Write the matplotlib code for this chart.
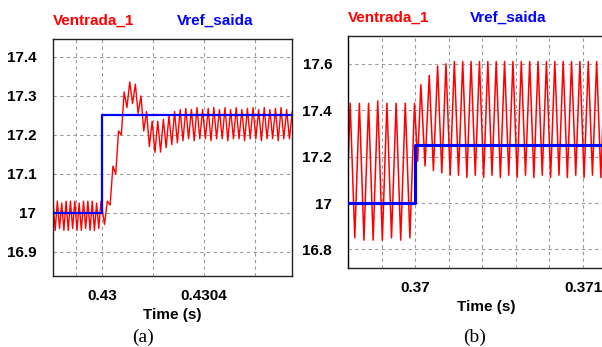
import numpy as np
import matplotlib
matplotlib.use("Agg")
import matplotlib.pyplot as plt

W, H = 602, 347

# ---------------- Panel (a) data ----------------
# before the step: alternating extremes (high/low) of Ventrada_1
a_pre_t0, a_pre_t1 = 0.429808, 0.429996
a_pre_vals = [17.03, 16.955, 17.03, 16.96, 17.025, 16.955, 17.03, 16.955,
              17.03, 16.96, 17.03, 16.955, 17.025, 16.955, 17.03, 16.96,
              17.03, 16.955, 17.03, 16.955, 17.025, 16.96, 17.03]
# after the step: alternating extremes (low/high)
a_post_t0, a_post_t1 = 0.43001, 0.430746
a_post_vals = [16.97, 17.03, 17.02, 17.12, 17.10, 17.21, 17.20, 17.31,
               17.27, 17.336, 17.28, 17.33, 17.255, 17.30, 17.21, 17.26,
               17.17, 17.235, 17.155, 17.235, 17.156, 17.24, 17.167, 17.25,
               17.175, 17.26, 17.18, 17.265, 17.185, 17.268, 17.19, 17.265,
               17.185, 17.27, 17.19, 17.265, 17.19, 17.268, 17.185, 17.27,
               17.19, 17.265, 17.19, 17.27, 17.185, 17.265, 17.19, 17.27,
               17.19, 17.265, 17.185, 17.268, 17.19, 17.27, 17.19, 17.265,
               17.185, 17.27, 17.19, 17.265, 17.19, 17.268, 17.185, 17.27,
               17.19, 17.265, 17.19, 17.26]
a_ref_t = [0.429808, 0.43, 0.430745]
a_ref_v = [17.0, 17.25, 17.25]
a_xticks = [0.4299, 0.43, 0.4302, 0.4304, 0.4306]
a_xticklabels = ["", "0.43", "", "0.4304", ""]
a_yticks = [16.9, 17.0, 17.1, 17.2, 17.3, 17.4]
a_yticklabels = ["16.9", "17", "17.1", "17.2", "17.3", "17.4"]

# ---------------- Panel (b) data ----------------
b_start_t, b_start_v = 0.3696, 17.15
b_pre_t0, b_pre_t1 = 0.369613, 0.369996
b_pre_vals = [17.43, 16.85, 17.43, 16.84, 17.43, 16.84, 17.44, 16.84,
              17.43, 16.85, 17.43, 16.84, 17.43, 16.85, 17.43]
b_mid_t, b_mid_v = 0.370015, 17.18
b_post_t0, b_post_t1 = 0.370034, 0.371131
b_post_vals = [17.51, 17.16, 17.55, 17.14, 17.59, 17.13, 17.60, 17.12,
               17.61, 17.12, 17.61, 17.11, 17.61, 17.12, 17.61, 17.11,
               17.61, 17.12, 17.61, 17.11, 17.61, 17.12, 17.61, 17.11,
               17.61, 17.12, 17.61, 17.11, 17.61, 17.12, 17.61, 17.11,
               17.61, 17.12, 17.61, 17.11, 17.61, 17.12, 17.61, 17.11,
               17.61, 17.12, 17.61, 17.11, 17.61]
b_ref_t = [0.3696, 0.37, 0.37125]
b_ref_v = [17.0, 17.25, 17.25]
b_xticks = [0.3698, 0.37, 0.3702, 0.3704, 0.3706, 0.3708, 0.371]
b_xticklabels = ["", "0.37", "", "", "", "", "0.371"]
b_yticks = [16.8, 17.0, 17.2, 17.4, 17.6]
b_yticklabels = ["16.8", "17", "17.2", "17.4", "17.6"]

RED = "#ff0000"
BLUE = "#0000ff"
FONT = "Liberation Sans"
FS = 11

fig = plt.figure(figsize=(W / 100, H / 100), dpi=100)
fig.patch.set_facecolor("white")


def px_axes(l, t, r, b):
    return fig.add_axes([l / W, (H - b) / H, (r - l) / W, (b - t) / H])


def style(ax, xticks, xtl, yticks, ytl, xpad, ypad, lpad):
    ax.set_xticks(xticks)
    ax.set_xticklabels(xtl)
    ax.set_yticks(yticks)
    ax.set_yticklabels(ytl)
    ax.tick_params(length=0, labelsize=FS, pad=ypad, axis="y")
    ax.tick_params(length=0, labelsize=FS, pad=xpad, axis="x")
    for lab in ax.get_xticklabels() + ax.get_yticklabels():
        lab.set_fontfamily(FONT)
        lab.set_fontweight("bold")
    ax.grid(True, color="#9a9a9a", linestyle=(0, (3, 3)), linewidth=0.8)
    ax.set_axisbelow(True)
    for s in ax.spines.values():
        s.set_color("#222222")
        s.set_linewidth(1.0)
    ax.set_xlabel("Time (s)", fontfamily=FONT, fontweight="bold",
                  fontsize=FS, labelpad=lpad)


# ---- panel (a)
axa = px_axes(53, 39, 292, 276)
a_t = np.concatenate([np.linspace(a_pre_t0, a_pre_t1, len(a_pre_vals)),
                      np.linspace(a_post_t0, a_post_t1, len(a_post_vals))])
a_v = np.concatenate([a_pre_vals, a_post_vals])
axa.plot(a_t, a_v, color=RED, lw=1.0, zorder=2)
axa.plot(a_ref_t, a_ref_v, color=BLUE, lw=1.6, drawstyle="steps-post", zorder=3)
axa.set_xlim(0.429808, 0.430745)
axa.set_ylim(16.838, 17.446)
style(axa, a_xticks, a_xticklabels, a_yticks, a_yticklabels, 9.5, 12, 3.5)

# ---- panel (b)
axb = px_axes(348, 36, 625, 268)
b_t = np.concatenate([[b_start_t],
                      np.linspace(b_pre_t0, b_pre_t1, len(b_pre_vals)),
                      [b_mid_t],
                      np.linspace(b_post_t0, b_post_t1, len(b_post_vals))])
b_v = np.concatenate([[b_start_v], b_pre_vals, [b_mid_v], b_post_vals])
axb.plot(b_t, b_v, color=RED, lw=1.1, zorder=2)
axb.plot(b_ref_t, b_ref_v, color=BLUE, lw=2.2, drawstyle="steps-post", zorder=3)
axb.set_xlim(0.3696, 0.37 + (625 - 415) / 168000)
axb.set_ylim(16.72, 17.72)
style(axb, b_xticks, b_xticklabels, b_yticks, b_yticklabels, 9, 11.5, 4)
axb.spines["left"].set_color("black")


def ftext(x, y, s, color, **kw):
    fig.text(x / W, 1 - y / H, s, color=color, va="center", **kw)


ftext(53, 21, "Ventrada_1", RED, fontfamily=FONT, fontweight="bold", fontsize=FS)
ftext(177, 21, "Vref_saida", BLUE, fontfamily=FONT, fontweight="bold", fontsize=FS)
ftext(348, 18, "Ventrada_1", RED, fontfamily=FONT, fontweight="bold", fontsize=FS)
ftext(470, 18, "Vref_saida", BLUE, fontfamily=FONT, fontweight="bold", fontsize=FS)

fig.text(143 / W, 1 - 337 / H, "(a)", ha="center", va="center",
         fontfamily="Liberation Serif", fontsize=14)
fig.text(475 / W, 1 - 337 / H, "(b)", ha="center", va="center",
         fontfamily="Liberation Serif", fontsize=14)

fig.savefig("out.png", dpi=100)
